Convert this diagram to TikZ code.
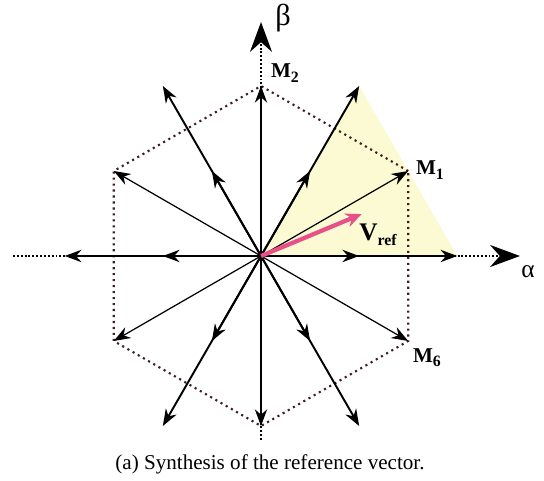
\documentclass[tikz,border=0pt]{standalone}
\usepackage{fontspec}
\setmainfont{Liberation Serif}
\usetikzlibrary{arrows.meta}
\definecolor{hexline}{HTML}{3E1E1E}
\definecolor{sector}{HTML}{FCFAD2}
\definecolor{vrefc}{HTML}{E8508A}
\newcommand{\sublbl}[2]{\textbf{#1}\raisebox{-0.45ex}{\small\textbf{#2}}}
\begin{document}
\begin{tikzpicture}[
    axisline/.style={line width=1.1pt,dash pattern=on 1.1pt off 1.1pt},
    hexedge/.style={hexline,line width=1.2pt,dash pattern=on 1.2pt off 2.2pt},
    vecthick/.style={-{Stealth[length=9.5pt,width=7pt]},line width=1.1pt},
    vecthin/.style={-{Stealth[length=9.5pt,width=7pt]},line width=0.7pt},
    bigtip/.style={-{Stealth[length=17pt,width=12.5pt]}}]
  \useasboundingbox (-5.22,-4.5) rectangle (5.66,5.12);
  \coordinate (O) at (0,0);
  \foreach \k in {1,...,6}{
    \coordinate (M\k) at ({60*\k-30}:3.4);
    \coordinate (S\k) at ({60*\k-60}:3.926);
    \coordinate (H\k) at ({60*\k-60}:1.963);}
  % sector
  \fill[sector] (O) -- (S1) -- (S2) -- cycle;
  % hexagon
  \draw[hexedge] (M1) -- (M2) -- (M3) -- (M4) -- (M5) -- (M6) -- cycle;
  % vectors
  \foreach \k in {1,...,6}{
    \draw[vecthick] (O) -- (S\k);
    \draw[vecthick] (O) -- (H\k);
    \draw[vecthin] (O) -- (M\k);}
  % axes
  \coordinate (aL) at (-4.96,0);
  \coordinate (aR) at (5.18,0);
  \coordinate (bD) at (0,-3.68);
  \coordinate (bU) at (0,4.68);
  \draw[axisline,bigtip] (aL) -- (aR);
  \draw[axisline,bigtip] (bD) -- (bU);
  \coordinate (R) at (22.6:2.18);
  \draw[vrefc,line width=2.4pt,-{Stealth[length=9pt,width=8pt]}] (O) -- (R);
  % labels
  \node (lM1) at (3.38,1.72) {\large\sublbl{M}{1}};
  \node (lM2) at (0.48,3.66) {\large\sublbl{M}{2}};
  \node (lM6) at (3.32,-2.04) {\large\sublbl{M}{6}};
  \node (lvref) at (2.34,0.42) {\Large\sublbl{V}{ref}};
  \node (lbeta) at (0.44,4.76) {\LARGE β};
  \node (lalpha) at (5.34,-0.32) {\Large α};
  \node (cap) at (0.18,-4.16) {\large (a) Synthesis of the reference vector.};
\end{tikzpicture}
\end{document}
